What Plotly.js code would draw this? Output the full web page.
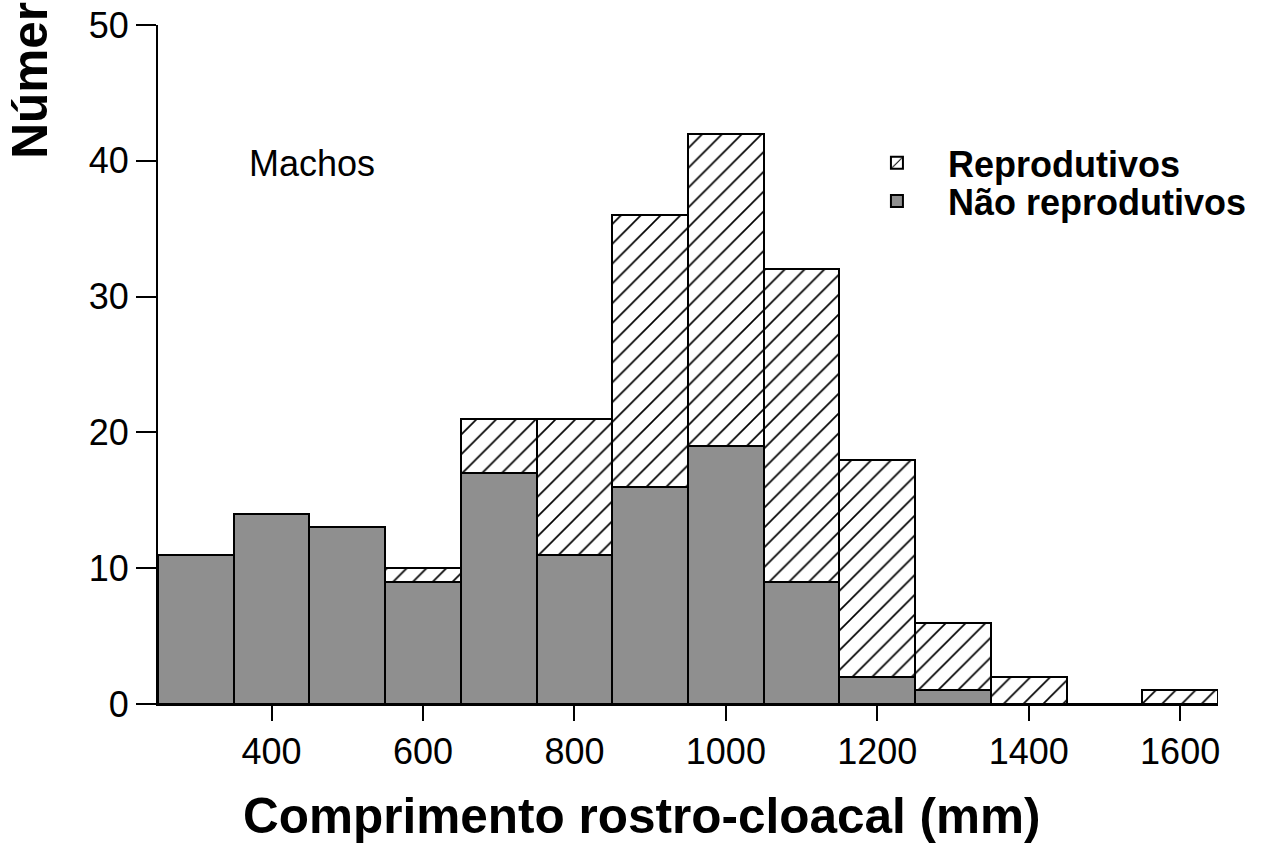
<!DOCTYPE html>
<html>
<head>
<meta charset="utf-8">
<script src="https://cdn.plot.ly/plotly-3.0.1.min.js"></script>
<style>html,body{margin:0;padding:0;background:#fff;}#chart{width:1271px;height:849px;}</style>
</head>
<body>
<div id="chart"></div>
<script>
const classes = [300, 400, 500, 600, 700, 800, 900, 1000, 1100, 1200, 1300, 1400, 1500, 1600];
const naoReprodutivos = [11, 14, 13, 9, 17, 11, 16, 19, 9, 2, 1, 0, 0, 0];
const reprodutivos = [0, 0, 0, 1, 4, 10, 20, 23, 23, 16, 5, 2, 0, 1];
const xTicks = [400, 600, 800, 1000, 1200, 1400, 1600];
const yTicks = [0, 10, 20, 30, 40, 50];

const FONT = 'Liberation Sans, Arial, sans-serif';

const traces = [
  {
    type: 'bar', x: classes, y: naoReprodutivos, width: 100,
    name: '<b>Não reprodutivos</b>', legend: 'legend2',
    marker: {color: '#8f8f8f', line: {color: '#000', width: 2}},
    hoverinfo: 'x+y'
  },
  {
    type: 'bar', x: classes, y: reprodutivos, width: 100,
    name: '<b>Reprodutivos</b>', legend: 'legend',
    marker: {
      color: '#ffffff',
      line: {color: '#000', width: 2},
      pattern: {shape: '/', fgcolor: '#000', bgcolor: '#fff', size: 14, solidity: 0.12}
    },
    hoverinfo: 'x+y'
  }
];

const legendBase = {
  xanchor: 'left', yanchor: 'middle',
  font: {family: FONT, size: 36, color: '#000'},
  bgcolor: 'rgba(0,0,0,0)', itemwidth: 92, borderwidth: 0
};

const layout = {
  width: 1271, height: 849,
  margin: {l: 158, r: 53, t: 25, b: 145},
  paper_bgcolor: '#fff', plot_bgcolor: '#fff',
  barmode: 'stack', bargap: 0,
  font: {family: FONT, size: 36, color: '#000'},
  showlegend: true,
  legend: Object.assign({}, legendBase, {x: 0.649, y: 0.7968}),
  legend2: Object.assign({}, legendBase, {x: 0.649, y: 0.7408}),
  xaxis: {
    range: [250, 1650], tickvals: xTicks, ticktext: xTicks.map(String),
    ticks: 'outside', ticklen: 15, tickwidth: 2, tickcolor: '#000',
    showline: true, linecolor: '#000', linewidth: 2,
    showgrid: false, zeroline: false, automargin: false,
    tickfont: {family: FONT, size: 36, color: '#000'}
  },
  yaxis: {
    range: [0, 50], tickvals: yTicks, ticktext: yTicks.map(String),
    ticks: 'outside', ticklen: 20, tickwidth: 2, tickcolor: '#000',
    showline: true, linecolor: '#000', linewidth: 2,
    showgrid: false, zeroline: false, automargin: false,
    tickfont: {family: FONT, size: 36, color: '#000'}
  },
  annotations: [
    {
      text: 'Machos', xref: 'x', yref: 'y', x: 453, y: 39.8,
      showarrow: false, xanchor: 'center', yanchor: 'middle',
      font: {family: FONT, size: 36, color: '#000'}
    },
    {
      text: '<b>Comprimento rostro-cloacal (mm)</b>', xref: 'paper', yref: 'paper',
      x: 0.4566, y: -0.1635, showarrow: false, xanchor: 'center', yanchor: 'middle',
      font: {family: FONT, size: 49.5, color: '#000'}
    },
    {
      text: '<b>Número de indivíduos</b>', xref: 'paper', yref: 'paper',
      x: -0.1208, y: 0.8, showarrow: false, textangle: -90,
      xanchor: 'center', yanchor: 'bottom',
      font: {family: FONT, size: 49.5, color: '#000'}
    }
  ]
};

Plotly.newPlot('chart', traces, layout, {displayModeBar: false, staticPlot: true});
</script>
</body>
</html>
